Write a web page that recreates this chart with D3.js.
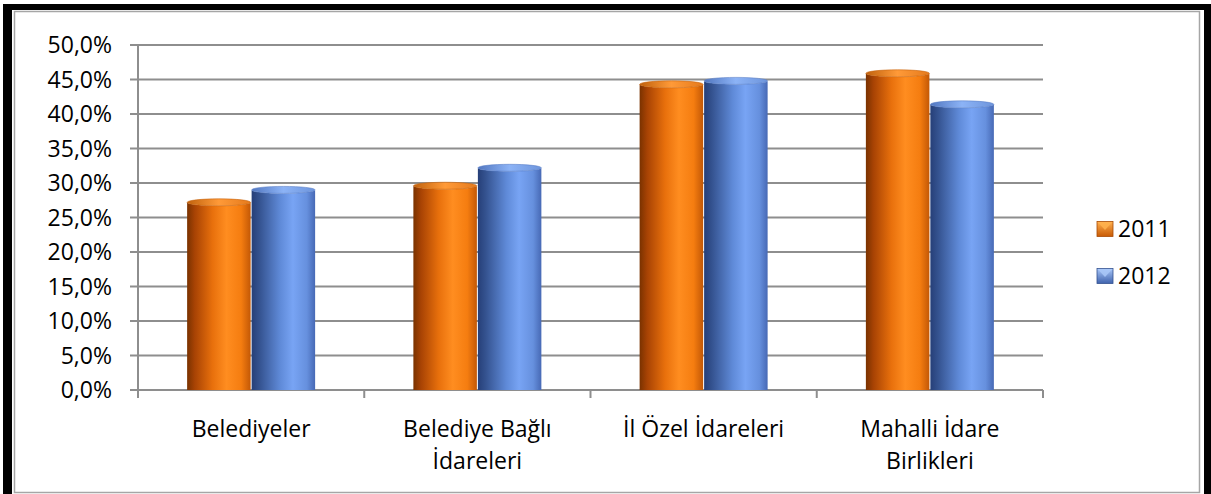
<!DOCTYPE html>
<html><head><meta charset="utf-8">
<script src="https://cdn.jsdelivr.net/npm/d3@7"></script>
<style>body{margin:0;background:#fff;}svg{display:block;}</style>
</head><body>
<script>
const categories = [["Belediyeler"], ["Belediye Bağlı", "İdareleri"], ["İl Özel İdareleri"], ["Mahalli İdare", "Birlikleri"]];
const seriesNames = ["2011", "2012"];
const values2011 = [27.2, 29.6, 44.3, 45.9];
const values2012 = [29.0, 32.2, 44.8, 41.4];
const yTicks = [0, 5, 10, 15, 20, 25, 30, 35, 40, 45, 50];

const W = 1211, H = 494;
const svg = d3.select("body").append("svg").attr("width", W).attr("height", H);
const defs = svg.append("defs");

function bodyGrad(id, stops) {
  const g = defs.append("linearGradient").attr("id", id).attr("x1", "0").attr("x2", "1").attr("y1", "0").attr("y2", "0");
  stops.forEach(s => g.append("stop").attr("offset", s[0]).attr("stop-color", s[1]));
}
bodyGrad("gOrange", [[0, "#7a3200"], [0.12, "#a84304"], [0.4, "#e8700c"], [0.62, "#ff8d20"], [0.85, "#f57d10"], [1, "#c35806"]]);
bodyGrad("gBlue", [[0, "#263f78"], [0.12, "#34528f"], [0.45, "#5f8ad8"], [0.65, "#78a4f4"], [0.87, "#6690de"], [1, "#4769b5"]]);
bodyGrad("cOrange", [[0, "#c0620e"], [0.5, "#ff9a38"], [1, "#e57a1c"]]);
bodyGrad("cBlue", [[0, "#5277c0"], [0.5, "#8cb3f6"], [1, "#6e95dc"]]);
const vg = (id, a, b) => { const g = defs.append("linearGradient").attr("id", id).attr("x1", 0).attr("x2", 0).attr("y1", 0).attr("y2", 1);
  g.append("stop").attr("offset", 0).attr("stop-color", a); g.append("stop").attr("offset", 1).attr("stop-color", b); };
vg("lOrange", "#ffb050", "#c85a04");
vg("lBlue", "#a8c6f8", "#3f63ad");

// frame
svg.append("rect").attr("x", 3).attr("y", 4).attr("width", 1210).attr("height", 500).attr("fill", "#000");
svg.append("rect").attr("x", 12).attr("y", 10).attr("width", 1192).attr("height", 490).attr("fill", "#fff");
svg.append("rect").attr("x", 14.5).attr("y", 11.5).attr("width", 1185).attr("height", 481).attr("fill", "none").attr("stroke", "#a6a6a6").attr("stroke-width", 1.5);

const x0 = d3.scaleBand().domain(d3.range(categories.length)).range([138, 1043]).padding(0);
const x1 = d3.scaleBand().domain(seriesNames).range([0, x0.bandwidth()]).paddingInner(0).paddingOuter(0.754);
const y = d3.scaleLinear().domain([0, 50]).range([390, 45]);

// grid
svg.append("g").selectAll("line").data(yTicks).join("line")
  .attr("x1", 130).attr("x2", 1043).attr("y1", d => y(d)).attr("y2", d => y(d))
  .attr("stroke", "#8e8e8e").attr("stroke-width", 2);
// y axis line
svg.append("line").attr("x1", 138).attr("x2", 138).attr("y1", 45).attr("y2", 391).attr("stroke", "#8e8e8e").attr("stroke-width", 2);
// x ticks
svg.append("g").selectAll("line").data(d3.range(categories.length + 1)).join("line")
  .attr("x1", d => 138 + d * x0.step()).attr("x2", d => 138 + d * x0.step())
  .attr("y1", 390).attr("y2", 398).attr("stroke", "#8e8e8e").attr("stroke-width", 2);

// y labels
svg.append("g").selectAll("text").data(yTicks).join("text")
  .attr("x", 112).attr("y", d => y(d)).attr("dy", "0.35em").attr("text-anchor", "end")
  .attr("font-family", "Open Sans").attr("font-size", 23).attr("fill", "#000")
  .text(d => d3.format(".1f")(d).replace(".", ",") + "%");

// bars
const ry = 3.5;
const data = [];
categories.forEach((c, i) => {
  data.push({i, s: "2011", v: values2011[i], body: "gOrange", cap: "cOrange", edge: "#c8650f"});
  data.push({i, s: "2012", v: values2012[i], body: "gBlue", cap: "cBlue", edge: "#5a80c8"});
});
const bars = svg.append("g").selectAll("g").data(data).join("g");
bars.append("path").attr("d", d => {
  const xl = x0(d.i) + x1(d.s) + 0.5, w = x1.bandwidth() - 1, yt = y(d.v), yb = y(0);
  return `M${xl},${yt} L${xl},${yb} L${xl + w},${yb} L${xl + w},${yt} A${w / 2},${ry} 0 0 1 ${xl},${yt} Z`;
}).attr("fill", d => `url(#${d.body})`);
bars.append("ellipse")
  .attr("cx", d => x0(d.i) + x1(d.s) + x1.bandwidth() / 2)
  .attr("cy", d => y(d.v)).attr("rx", d => x1.bandwidth() / 2 - 0.5).attr("ry", ry)
  .attr("fill", d => `url(#${d.cap})`).attr("stroke", d => d.edge).attr("stroke-width", 0.6);

// category labels
const cl = svg.append("g").selectAll("text").data(categories).join("text")
  .attr("x", (d, i) => x0(i) + x0.bandwidth() / 2).attr("y", 437)
  .attr("text-anchor", "middle").attr("font-family", "Open Sans").attr("font-size", 23).attr("fill", "#000");
cl.selectAll("tspan").data(d => d).join("tspan")
  .attr("x", function() { return d3.select(this.parentNode).attr("x"); })
  .attr("dy", (d, j) => j === 0 ? 0 : 32).text(d => d);

// legend
const legend = svg.append("g").selectAll("g").data(seriesNames).join("g")
  .attr("transform", (d, i) => `translate(1097, ${229 + i * 47})`);
legend.append("rect").attr("x", 0).attr("y", -7.5).attr("width", 16).attr("height", 15)
  .attr("fill", (d, i) => i === 0 ? "url(#lOrange)" : "url(#lBlue)")
  .attr("stroke", (d, i) => i === 0 ? "#a84a04" : "#34528f").attr("stroke-width", 0.8);
legend.append("path").attr("d", "M0.5,-7 L15.5,-7 L8,1 Z")
  .attr("fill", (d, i) => i === 0 ? "#ffb24e" : "#a9c8f8").attr("opacity", 0.85);
legend.append("text").attr("x", 21).attr("y", 0).attr("dy", "0.36em")
  .attr("font-family", "Open Sans").attr("font-size", 23).attr("fill", "#000").text(d => d);
</script>
</body></html>
